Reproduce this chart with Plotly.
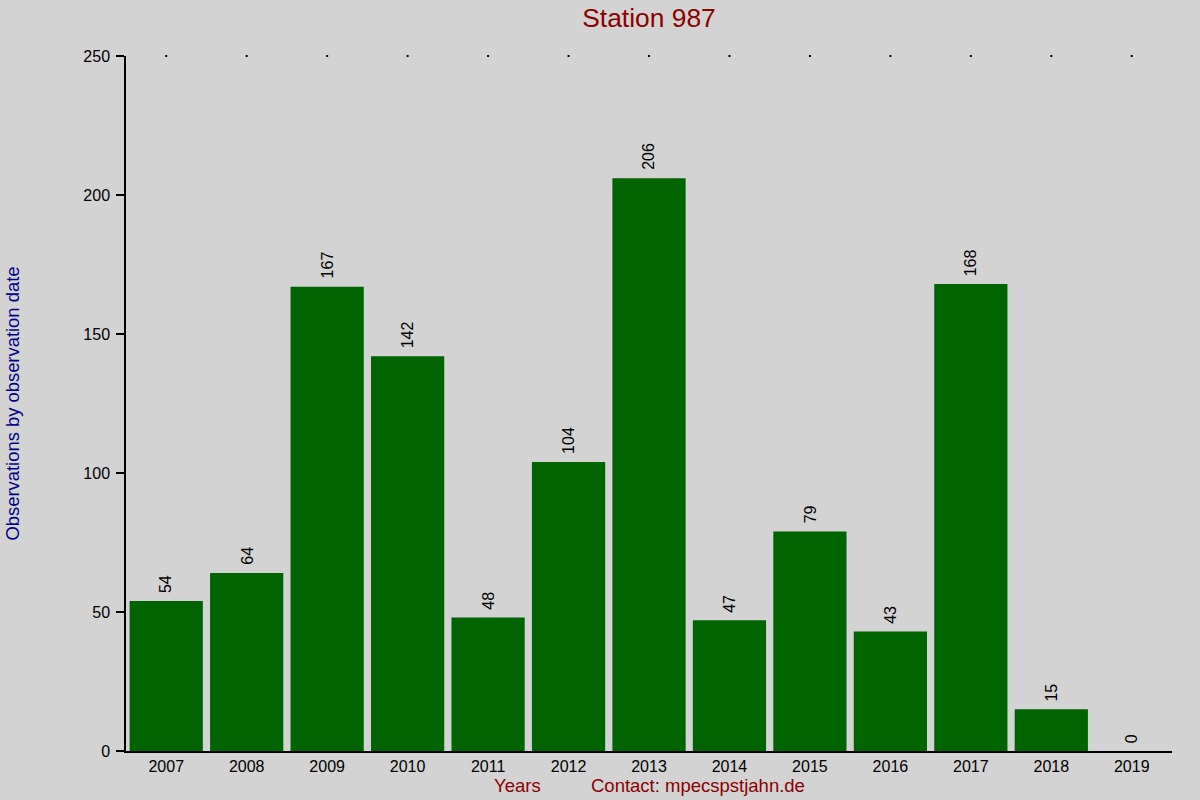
import plotly.graph_objects as go

years = ["2007", "2008", "2009", "2010", "2011", "2012", "2013", "2014", "2015", "2016", "2017", "2018", "2019"]
counts = [54, 64, 167, 142, 48, 104, 206, 47, 79, 43, 168, 15, 0]
y_ticks = [0, 50, 100, 150, 200, 250]

FONT = "Liberation Sans, Arial, sans-serif"
L, T, R, B = 126, 56, 28, 49
PW = 1200 - L - R
PH = 800 - T - B

fig = go.Figure()
fig.add_trace(go.Bar(x=years, y=counts, marker=dict(color="#006400", line=dict(width=0)),
                     width=0.91, hoverinfo="x+y"))
fig.add_trace(go.Scatter(x=years, y=[250] * len(years), mode="markers",
                         marker=dict(color="black", size=2, symbol="square"),
                         hoverinfo="skip", cliponaxis=False))

for i, c in enumerate(counts):
    fig.add_annotation(x=i, y=c, xref="x", yref="y", text=str(c), textangle=-90, showarrow=False,
                       yanchor="bottom", yshift=6,
                       font=dict(size=16, color="black", family=FONT))

fig.update_layout(
    width=1200, height=800,
    paper_bgcolor="#D3D3D3", plot_bgcolor="#D3D3D3",
    margin=dict(l=L, r=R, t=T, b=B),
    showlegend=False,
    font=dict(family=FONT, size=16, color="black"),
    title=dict(text="Station 987", x=649 / 1200, xanchor="center", y=1 - 18 / 800, yanchor="middle",
               font=dict(size=26.4, color="#8B0000")),
    xaxis=dict(type="category", range=[-0.5, 12.5], showgrid=False, zeroline=False,
               showline=True, linecolor="black", linewidth=1.5, ticks="",
               tickfont=dict(size=16)),
    yaxis=dict(range=[0, 250], tickvals=y_ticks, showgrid=False, zeroline=False,
               showline=True, linecolor="black", linewidth=1.5, ticks="outside",
               ticklen=8, tickwidth=1.5, tickcolor="black", tickfont=dict(size=16),
               ticklabelstandoff=3),
)

fig.add_annotation(x=(12 - L) / PW, y=0.5, xref="paper", yref="paper", xanchor="center", yanchor="middle",
                   text="Observations by observation date", textangle=-90, showarrow=False,
                   font=dict(size=18.4, color="#00008B", family=FONT))
fig.add_annotation(x=(517 - L) / PW, y=-(786 - (800 - B)) / PH, xref="paper", yref="paper",
                   text="Years", showarrow=False, xanchor="center", yanchor="middle",
                   font=dict(size=18.5, color="#8B0000", family=FONT))
fig.add_annotation(x=(698 - L) / PW, y=-(786 - (800 - B)) / PH, xref="paper", yref="paper",
                   text="Contact: mpecspstjahn.de", showarrow=False, xanchor="center", yanchor="middle",
                   font=dict(size=18.5, color="#8B0000", family=FONT))

fig.write_html("out.html", config={"displayModeBar": False},
               post_script="document.body.style.margin='0px';")
